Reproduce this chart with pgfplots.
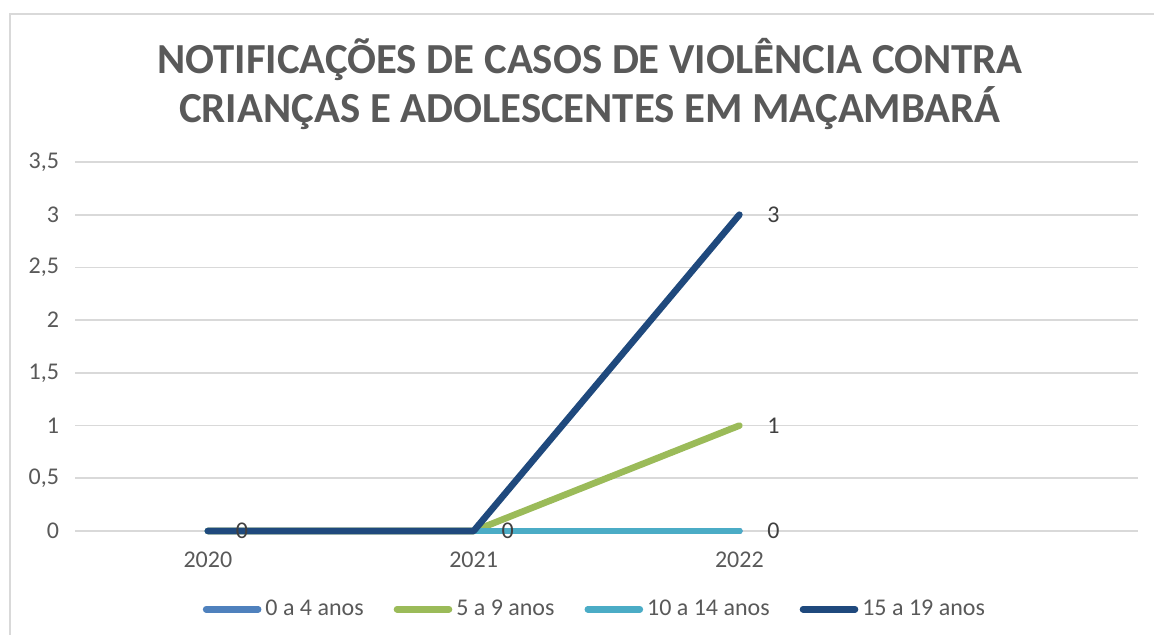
\documentclass[border=0pt]{standalone}
\usepackage{fontspec}
\setmainfont{Carlito}
\usepackage{pgfplots}
\pgfplotsset{compat=1.18}
\definecolor{azul}{HTML}{4F81BD}
\definecolor{verde}{HTML}{9BBB59}
\definecolor{ciano}{HTML}{4BACC6}
\definecolor{marinho}{HTML}{1F497D}
\definecolor{grade}{HTML}{D9D9D9}
\definecolor{texto}{HTML}{595959}
\definecolor{rotulo}{HTML}{404040}

\begin{document}
\begin{tikzpicture}[x=0.5pt,y=0.5pt]
  \useasboundingbox (0,0) rectangle (1154,635);
  \draw[grade, line width=1pt] (10,0) -- (10,621) -- (1154,621);
  \node[text=texto, font=\fontsize{21.4}{24.5}\selectfont\bfseries, align=center]
    at (590,551) {NOTIFICAÇÕES DE CASOS DE VIOLÊNCIA CONTRA\\CRIANÇAS E ADOLESCENTES EM MAÇAMBARÁ};
  \begin{axis}[
      at={(37.5pt,52pt)}, anchor=south west,
      width=531.5pt, height=184.5pt, scale only axis,
      xmin=-0.5, xmax=3.5, ymin=0, ymax=3.5,
      xtick={0,1,2}, xticklabels={2020,2021,2022},
      ytick={0,0.5,...,3.5},
      /pgf/number format/use comma,
      /pgf/number format/assume math mode=true,
      yticklabel style={xshift=-4.5pt},
      xticklabel style={yshift=-7pt},
      tick label style={font=\fontsize{12}{14}\selectfont, text=texto},
      major tick length=0pt,
      axis line style={draw=none},
      ymajorgrids, grid style={grade, line width=0.9pt},
      clip=false,
      legend columns=4,
      legend style={draw=none, fill=none, at={(0.4900,-0.212)}, anchor=center,
        font=\fontsize{12}{14}\selectfont, text=texto,
        /tikz/every even column/.append style={column sep=13pt},
        inner sep=0pt, row sep=0pt},
      legend image code/.code={\draw[#1, line cap=round] (0pt,0pt) -- (26pt,0pt);},
      every axis plot/.append style={line width=3.3pt, line cap=round, line join=round},
      nodes near coords style={font=\fontsize{12}{14}\selectfont, text=rotulo, anchor=west, xshift=9pt},
    ]
    \addplot[azul] coordinates {(0,0) (1,0) (2,0)};
    \addplot[verde] coordinates {(0,0) (1,0) (2,1)};
    \addplot[ciano] coordinates {(0,0) (1,0) (2,0)};
    \addplot[marinho, nodes near coords] coordinates {(0,0) (1,0) (2,3)};
    \addplot[draw=none, forget plot, nodes near coords] coordinates {(2,1)};
    \addplot[draw=none, forget plot, nodes near coords] coordinates {(2,0)};
    \legend{0 a 4 anos, 5 a 9 anos, 10 a 14 anos, 15 a 19 anos}
  \end{axis}
\end{tikzpicture}
\end{document}
